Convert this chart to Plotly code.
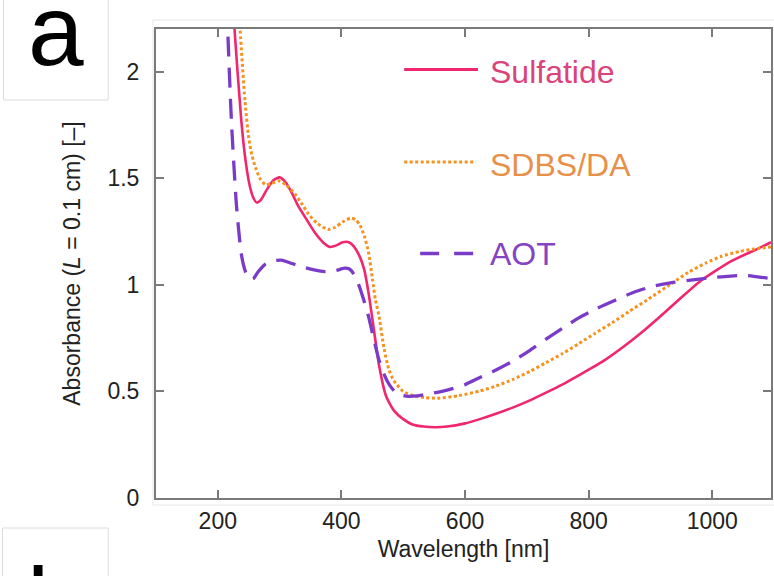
import plotly.graph_objects as go

# ---- absorbance spectra (wavelength in nm, absorbance for L = 0.1 cm) ----
sulfatide_nm = [222, 227, 238, 245, 252, 258, 263, 270, 280, 290, 300, 310, 320, 330,
                345, 357, 370, 381, 392, 402, 412, 420, 430, 437, 444, 452, 461, 472,
                485, 500, 515, 533, 552, 571, 600, 624, 650, 678, 705, 731, 758, 784,
                805, 826, 860, 892, 912, 944, 982, 1030, 1074, 1095]
sulfatide_abs = [2.45, 2.20, 1.77, 1.58, 1.46, 1.405, 1.386, 1.40, 1.45, 1.49, 1.504, 1.48,
                 1.43, 1.37, 1.30, 1.245, 1.20, 1.178, 1.185, 1.20, 1.20, 1.18, 1.13, 1.07,
                 0.96, 0.80, 0.62, 0.48, 0.41, 0.37, 0.345, 0.335, 0.332, 0.335, 0.35,
                 0.37, 0.395, 0.425, 0.458, 0.494, 0.533, 0.575, 0.61, 0.647, 0.718,
                 0.792, 0.842, 0.925, 1.02, 1.11, 1.17, 1.20]

sdbs_nm = [230, 236, 244, 250, 255, 261, 268, 277, 287, 298, 310, 325, 336, 346, 360,
           378, 390, 402, 415, 423, 430, 437, 444, 450, 455, 461, 469, 477, 485, 500,
           517, 535, 555, 590, 624, 650, 678, 705, 731, 758, 784, 810, 838, 865, 895,
           933, 961, 990, 1015, 1045, 1068, 1095]
sdbs_abs = [2.50, 2.20, 1.86, 1.69, 1.61, 1.55, 1.50, 1.47, 1.475, 1.488, 1.47, 1.425,
            1.38, 1.335, 1.29, 1.26, 1.27, 1.295, 1.313, 1.305, 1.28, 1.23, 1.15, 1.03,
            0.93, 0.85, 0.70, 0.60, 0.55, 0.50, 0.479, 0.471, 0.468, 0.48, 0.502,
            0.525, 0.557, 0.594, 0.635, 0.678, 0.724, 0.772, 0.822, 0.874, 0.93,
            1.004, 1.058, 1.103, 1.134, 1.157, 1.168, 1.178]

aot_nm = [212, 216, 222, 230, 238, 245, 252, 258, 265, 277, 290, 303, 320, 341, 356,
          373, 390, 405, 413, 420, 428, 436, 444, 452, 460, 469, 479, 490, 505, 522,
          545, 571, 600, 624, 650, 678, 705, 731, 758, 784, 810, 843, 870, 900, 930,
          965, 1000, 1030, 1055, 1076, 1095]
aot_abs = [2.60, 2.20, 1.77, 1.38, 1.145, 1.06, 1.025, 1.03, 1.06, 1.097, 1.112, 1.116,
           1.10, 1.081, 1.07, 1.062, 1.066, 1.078, 1.074, 1.05, 1.00, 0.93, 0.85,
           0.75, 0.655, 0.58, 0.525, 0.49, 0.478, 0.479, 0.49, 0.506, 0.532, 0.565,
           0.60, 0.643, 0.693, 0.745, 0.797, 0.845, 0.885, 0.928, 0.962, 0.99, 1.008,
           1.022, 1.034, 1.041, 1.044, 1.036, 1.03]

series_names = ["Sulfatide", "SDBS/DA", "AOT"]
line_colors = ["#F0266E", "#F7921F", "#7A3CC8"]
text_colors = ["#D9457A", "#E8904A", "#8544C2"]

x_ticks = [200, 400, 600, 800, 1000]
y_ticks = [0, 0.5, 1, 1.5, 2]
y_tick_text = ["0", "0.5", "1", "1.5", "2"]

FONT = "Liberation Sans, Arial, Helvetica, sans-serif"

W, H = 774, 576
ML, MR, MT, MB = 156, 1, 29, 78
PW, PH = W - ML - MR, H - MT - MB


def px(xp):
    """pixel column -> paper x"""
    return (xp - ML) / PW


def py(yp):
    """pixel row -> paper y"""
    return (H - MB - yp) / PH


fig = go.Figure()

fig.add_trace(go.Scatter(
    x=sulfatide_nm, y=sulfatide_abs, mode="lines", name=series_names[0],
    line=dict(color=line_colors[0], width=2.6, shape="spline", smoothing=0.6),
    showlegend=False))
fig.add_trace(go.Scatter(
    x=sdbs_nm, y=sdbs_abs, mode="lines", name=series_names[1],
    line=dict(color=line_colors[1], width=3, dash="3px,2.5px", shape="spline", smoothing=0.6),
    showlegend=False))
fig.add_trace(go.Scatter(
    x=aot_nm, y=aot_abs, mode="lines", name=series_names[2],
    line=dict(color=line_colors[2], width=3.3, dash="20px,11px", shape="spline", smoothing=0.6),
    showlegend=False))

shapes = []
annotations = []

# faint outer panel box
shapes.append(dict(type="rect", xref="paper", yref="paper", layer="below",
                   x0=px(153), x1=px(800), y0=py(505), y1=py(20),
                   line=dict(color="#e6e6e6", width=1)))

# in-plot legend: sample line + coloured label
legend_rows = [
    (405, 479, 69.5, 71.7, "solid", 3.2),
    (405, 477, 162, 165, "3px,2.5px", 3.0),
    (421, 475, 253.5, 253.5, "19px,15px", 3.5),
]
for i, (x0, x1, ly, ty, dash, lw) in enumerate(legend_rows):
    shapes.append(dict(type="line", xref="paper", yref="paper",
                       x0=px(x0), x1=px(x1), y0=py(ly), y1=py(ly),
                       line=dict(color=line_colors[i], width=lw, dash=dash)))
    annotations.append(dict(text=series_names[i], xref="paper", yref="paper",
                            x=px(489), y=py(ty), xanchor="left", yanchor="middle",
                            showarrow=False,
                            font=dict(family=FONT, size=32, color=text_colors[i])))

# panel labels
shapes.append(dict(type="rect", xref="paper", yref="paper",
                   x0=px(3), x1=px(108), y0=py(100), y1=py(-5),
                   fillcolor="white", line=dict(color="#dcdcdc", width=1)))
annotations.append(dict(text="a", xref="paper", yref="paper", x=px(56), y=py(30),
                        xanchor="center", yanchor="middle", showarrow=False,
                        font=dict(family=FONT, size=100, color="black")))
shapes.append(dict(type="rect", xref="paper", yref="paper",
                   x0=px(2), x1=px(108), y0=py(620), y1=py(528),
                   fillcolor="white", line=dict(color="#dcdcdc", width=1)))
annotations.append(dict(text="b", xref="paper", yref="paper", x=px(25), y=py(545),
                        xanchor="left", yanchor="top", showarrow=False,
                        font=dict(family=FONT, size=100, color="black")))

axis_common = dict(
    showline=True, linecolor="#7a7a7a", linewidth=2, mirror="ticks",
    ticks="inside", ticklen=8, tickwidth=1.5, tickcolor="#7a7a7a",
    showgrid=False, zeroline=False,
    tickfont=dict(family=FONT, size=23, color="#222222"),
)

fig.update_layout(
    width=W, height=H,
    margin=dict(l=ML, r=MR, t=MT, b=MB, pad=0),
    paper_bgcolor="white", plot_bgcolor="white",
    font=dict(family=FONT, color="#222222"),
    xaxis=dict(range=[100, 1095], tickvals=x_ticks, ticklabelstandoff=1,
               title=dict(text="Wavelength [nm]", font=dict(family=FONT, size=23, color="#222222"),
                          standoff=8),
               **axis_common),
    yaxis=dict(range=[0, 2.2], tickvals=y_ticks, ticktext=y_tick_text, ticklabelstandoff=10,
               title=dict(text="Absorbance (<i>L</i> = 0.1 cm) [\u2013]",
                          font=dict(family=FONT, size=23, color="#222222"), standoff=20),
               **axis_common),
    shapes=shapes,
    annotations=annotations,
)

fig.write_html("out.html")
